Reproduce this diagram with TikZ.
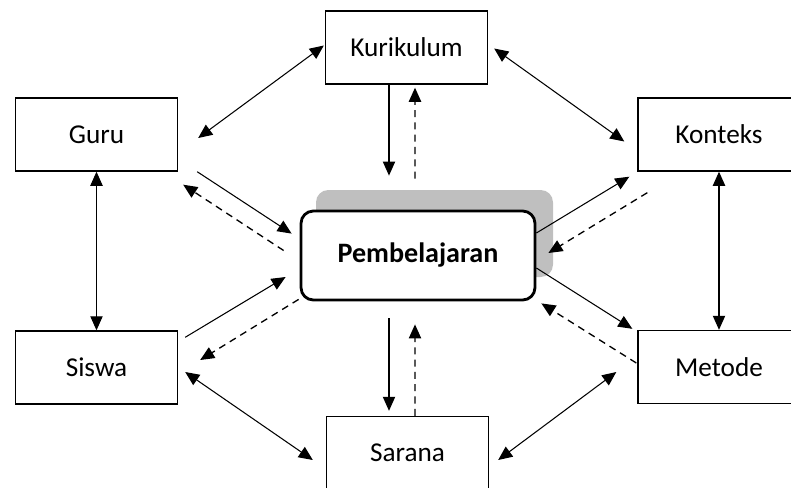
\documentclass[tikz,border=0pt]{standalone}
\usepackage{fontspec}
\setmainfont{Carlito}
\usetikzlibrary{arrows.meta,calc,positioning}

\begin{document}
\begin{tikzpicture}[x=0.02cm,y=-0.02cm,
    box/.style={draw,line width=0.8pt,fill=white,inner sep=0pt,
      minimum width=3.24cm,minimum height=1.46cm,font=\fontsize{15.5}{17}\selectfont},
    core/.style={draw,line width=1.6pt,fill=white,rounded corners=7pt,inner sep=0pt,
      minimum width=4.68cm,minimum height=1.78cm,font=\fontsize{16}{18}\selectfont\bfseries},
    arr/.style={line width=0.6pt,-{Triangle[length=8pt,width=7pt]}},
    bi/.style={line width=0.6pt,{Triangle[length=8pt,width=7pt]}-{Triangle[length=8pt,width=7pt]}},
    back/.style={arr,line width=0.75pt,dash pattern=on 4pt off 3pt}]
  \useasboundingbox (0,0) rectangle (791,487);
  % shadow of the centre box
  \fill[black!25,rounded corners=7pt] (316,190) rectangle (553,277);
  \node[core] (pemb) at (418,255.5) {Pembelajaran};
  \foreach \nm/\x/\y/\txt in {kur/406.5/47.5/Kurikulum, guru/96.5/134.5/Guru,
      kon/719/134.5/Konteks, siswa/96.5/367.5/Siswa, met/719/367/Metode,
      sar/407.5/453/Sarana}
    \node[box] (\nm) at (\x,\y) {\txt};

  % around the outside
  \draw[bi] ($(guru.east)+(20,3.5)$) -- ($(kur.west)+(-1,-2)$);
  \draw[bi] ($(kur.east)+(6,1)$) -- ($(kon.west)+(-13,7)$);
  \draw[bi] (guru.south) -- (siswa.north);
  \draw[bi] (kon.south) -- (met.north);
  \draw[bi] ($(siswa.east)+(7,4.5)$) -- ($(sar.west)+(-13,7)$);
  \draw[bi] ($(met.west)+(-21,5)$) -- ($(sar.east)+(9,7)$);

  % to and from the centre
  \draw[arr] ($(kur.south)+(-17.5,0)$) -- ($(pemb.north)+(-29,-34)$);
  \draw[back] ($(pemb.north)+(-3,-31)$) -- ($(kur.south)+(8.5,3)$);
  \draw[arr] ($(guru.south east)+(19,0)$) -- ($(pemb.north west)+(-8,24)$);
  \draw[back] ($(pemb.west)+(-16,-5)$) -- ($(guru.south east)+(5,13)$);
  \draw[arr] ($(siswa.north east)+(7,7)$) -- ($(pemb.west)+(-14,21.5)$);
  \draw[back] ($(pemb.south west)+(-1,-2)$) -- ($(siswa.east)+(22,-7.5)$);
  \draw[arr] ($(pemb.east)+(0,-22.5)$) -- ($(kon.south west)+(-8,5)$);
  \draw[back] ($(kon.south west)+(10,21)$) -- ($(pemb.east)+(12,-2.5)$);
  \draw[arr] ($(pemb.east)+(0,12.5)$) -- ($(met.north west)+(-5,-1)$);
  \draw[back] ($(met.west)+(-1,-4)$) -- ($(pemb.south east)+(5,2)$);
  \draw[arr] ($(pemb.south)+(-29,17)$) -- ($(sar.north)+(-18.5,-5)$);
  \draw[back] ($(sar.north)+(7.5,0)$) -- ($(pemb.south)+(-3,23)$);
\end{tikzpicture}
\end{document}
